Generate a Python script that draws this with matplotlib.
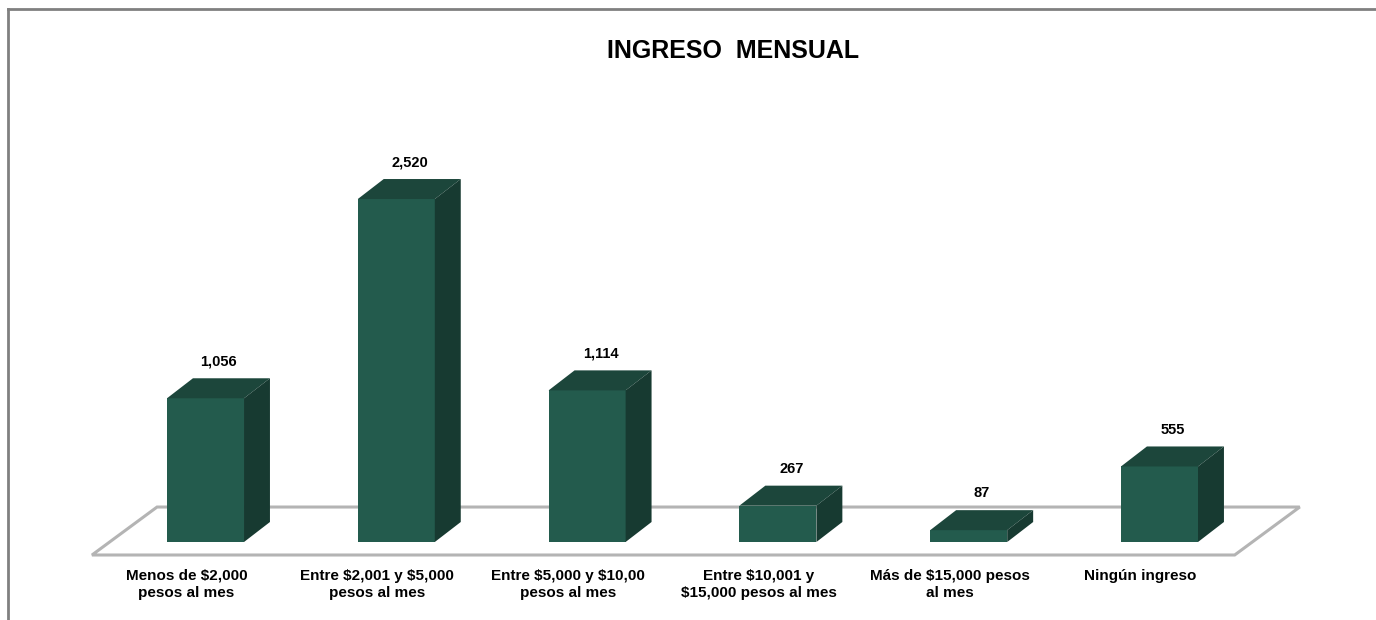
import matplotlib
matplotlib.use("Agg")
import matplotlib.pyplot as plt
from matplotlib.patches import Polygon
from matplotlib.lines import Line2D

plt.rcParams['font.family'] = ['Liberation Sans', 'DejaVu Sans']
plt.rcParams['text.parse_math'] = False

categories = ["Menos de $2,000\npesos al mes",
              "Entre $2,001 y $5,000\npesos al mes",
              "Entre $5,000 y $10,00\npesos al mes",
              "Entre $10,001 y\n$15,000 pesos al mes",
              "Más de $15,000 pesos\nal mes",
              "Ningún ingreso"]
values = [1056, 2520, 1114, 267, 87, 555]
value_labels = ["1,056", "2,520", "1,114", "267", "87", "555"]

front_c = "#235b4d"
top_c = "#1c463b"
side_c = "#173a31"

fig = plt.figure(figsize=(13.76, 6.2), dpi=100)
ax = fig.add_axes([0, 0, 1, 1])
ax.set_axis_off()
ax.set_xlim(-1.0771, 6.1347)
ax.set_ylim(-573.1, 3982.4)

# 3d depth of bars (data units)
bw = 0.4036
ddx = 0.136
ddy = 147

# floor
floor = Polygon([(-0.595, -95.5), (-0.254, 257), (5.735, 257), (5.394, -95.5)],
                closed=True, fc="white", ec="#b4b4b4", lw=2.2, zorder=1)
ax.add_patch(floor)

xs = list(range(len(values)))
ax.bar(xs, values, width=bw, color=front_c, zorder=3)
for x, v in zip(xs, values):
    l, r = x - bw / 2, x + bw / 2
    top = Polygon([(l, v), (l + ddx, v + ddy), (r + ddx, v + ddy), (r, v)],
                  closed=True, fc=top_c, ec="none", zorder=3)
    side = Polygon([(r, 0), (r, v), (r + ddx, v + ddy), (r + ddx, ddy)],
                   closed=True, fc=side_c, ec="none", zorder=3)
    ax.add_patch(top)
    ax.add_patch(side)

for x, v, lab in zip(xs, values, value_labels):
    ax.text(x + 0.07, v + 270, lab, ha="center", va="center",
            fontsize=10.5, fontweight="bold", color="black")

for x, cat in zip(xs, categories):
    ax.text(x - 0.1, -198, cat, ha="center", va="top", fontsize=11,
            fontweight="bold", color="black", linespacing=1.3)

fig.text(733 / 1376, 1 - 51 / 620, "INGRESO  MENSUAL", ha="center", va="center",
         fontsize=18, fontweight="bold", color="black")

# chart border (top and left visible)
fig.add_artist(Line2D([8 / 1376, 8 / 1376], [0, 1 - 9 / 620], color="#808080", lw=2))
fig.add_artist(Line2D([8 / 1376, 1], [1 - 9 / 620, 1 - 9 / 620], color="#808080", lw=2))

fig.savefig("out.png", dpi=100)
